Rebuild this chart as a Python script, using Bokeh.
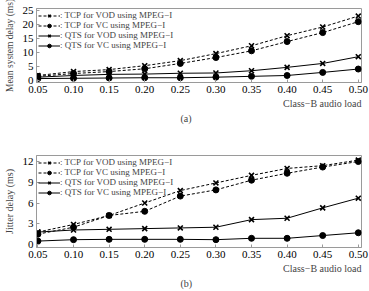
from bokeh.plotting import figure
from bokeh.layouts import column
from bokeh.models import Range1d, FixedTicker, PrintfTickFormatter, Legend, LegendItem, Title
from bokeh.embed import file_html
from bokeh.resources import INLINE

loads = [0.05, 0.10, 0.15, 0.20, 0.25, 0.30, 0.35, 0.40, 0.45, 0.50]

# (a) Mean system delay (ms)
mean_tcp_vod = [1.8, 3.2, 3.9, 5.3, 7.1, 9.6, 12.4, 16.0, 19.1, 23.0]
mean_tcp_vc = [1.5, 2.5, 3.2, 4.2, 6.1, 8.2, 10.6, 13.9, 17.1, 21.0]
mean_qts_vod = [1.2, 1.8, 2.2, 2.3, 2.6, 2.7, 3.5, 4.7, 6.1, 8.5]
mean_qts_vc = [0.7, 0.8, 0.9, 1.0, 1.0, 1.2, 1.5, 1.8, 2.9, 4.1]

# (b) Jitter delay (ms)
jit_tcp_vod = [1.8, 2.9, 4.2, 6.0, 7.8, 8.9, 10.0, 11.0, 11.4, 12.2]
jit_tcp_vc = [1.5, 2.5, 4.2, 4.8, 7.0, 7.9, 9.3, 10.3, 11.2, 12.0]
jit_qts_vod = [1.8, 2.1, 2.2, 2.3, 2.4, 2.5, 3.6, 3.8, 5.3, 6.7]
jit_qts_vc = [0.5, 0.7, 0.75, 0.75, 0.75, 0.7, 0.9, 0.9, 1.3, 1.7]

labels = [": TCP for VOD using MPEG\u2212I",
          ": TCP for VC using MPEG\u2212I",
          ": QTS for VOD using MPEG\u2212I",
          ": QTS for VC using MPEG\u2212I"]

y_ticks_a = [0, 5, 10, 15, 20, 25]
y_ticks_b = [0, 3, 6, 9, 12]

FONT = "Liberation Serif"


def make_panel(series, yr, yticks, ylabel, ylabel_size, tag, height, top, bottom):
    p = figure(width=369, height=height, output_backend="svg", toolbar_location=None,
               x_range=Range1d(0.048, 0.5045), y_range=Range1d(*yr),
               min_border_left=33, min_border_right=8, min_border_top=top,
               min_border_bottom=bottom)
    p.xgrid.visible = False
    p.ygrid.visible = False
    p.outline_line_color = "#9a9a9a"
    p.outline_line_width = 1
    p.background_fill_color = "white"
    p.border_fill_color = "white"

    p.xaxis.ticker = FixedTicker(ticks=loads)
    p.xaxis.formatter = PrintfTickFormatter(format="%.2f")
    p.yaxis.ticker = FixedTicker(ticks=yticks)
    for ax in (p.xaxis[0], p.yaxis[0]):
        ax.axis_line_color = "#9a9a9a"
        ax.major_tick_line_color = "#9a9a9a"
        ax.major_tick_in = 3
        ax.major_tick_out = 0
        ax.minor_tick_line_color = None
        ax.major_label_text_font = FONT
        ax.major_label_text_font_size = "11px"
        ax.major_label_text_color = "black"
        ax.major_label_standoff = 3
    p.yaxis.axis_label = ylabel
    p.yaxis.axis_label_text_font = FONT
    p.yaxis.axis_label_text_font_size = ylabel_size
    p.yaxis.axis_label_text_font_style = "normal"
    p.yaxis.axis_label_standoff = 5

    items = []
    styles = [("dashed", "x"), ("dashed", "dot"), ("solid", "x"), ("solid", "dot")]
    for ys, (ls, mk), lab in zip(series, styles, labels):
        r1 = p.line(loads, ys, line_color="black", line_width=1,
                    line_dash="3 2" if ls == "dashed" else "solid")
        if mk == "x":
            r2 = p.scatter(loads, ys, marker="x", size=7, line_color="black", line_width=1.6)
        else:
            r2 = p.scatter(loads, ys, marker="circle", size=6, fill_color="black", line_color="black")
        items.append(LegendItem(label=lab, renderers=[r1, r2]))

    leg = Legend(items=items, location="top_left", orientation="vertical")
    leg.label_text_font = FONT
    leg.label_text_font_size = "9px"
    leg.label_height = 9
    leg.glyph_height = 9
    leg.glyph_width = 22
    leg.spacing = 0
    leg.padding = 1
    leg.margin = 2
    leg.label_standoff = 0
    leg.border_line_color = None
    leg.background_fill_alpha = 0
    p.add_layout(leg)

    t1 = Title(text="Class\u2212B audio load", align="right", text_font=FONT,
               text_font_size="10px", text_font_style="normal", standoff=1)
    p.add_layout(t1, "below")
    t2 = Title(text=tag, align="left", offset=144, text_font=FONT,
               text_font_size="10px", text_font_style="normal", standoff=2)
    p.add_layout(t2, "below")
    return p


pa = make_panel([mean_tcp_vod, mean_tcp_vc, mean_qts_vod, mean_qts_vc],
                (-0.7, 25.7), y_ticks_a, "Mean system delay (ms)", "9.5px", "(a)", 140, 8, 58)
pb = make_panel([jit_tcp_vod, jit_tcp_vc, jit_qts_vod, jit_qts_vc],
                (-0.43, 12.87), y_ticks_b, "Jitter delay (ms)", "10px", "(b)", 151, 15, 44)

layout = column(pa, pb, spacing=0)
open("out.html", "w").write(file_html(layout, INLINE))
